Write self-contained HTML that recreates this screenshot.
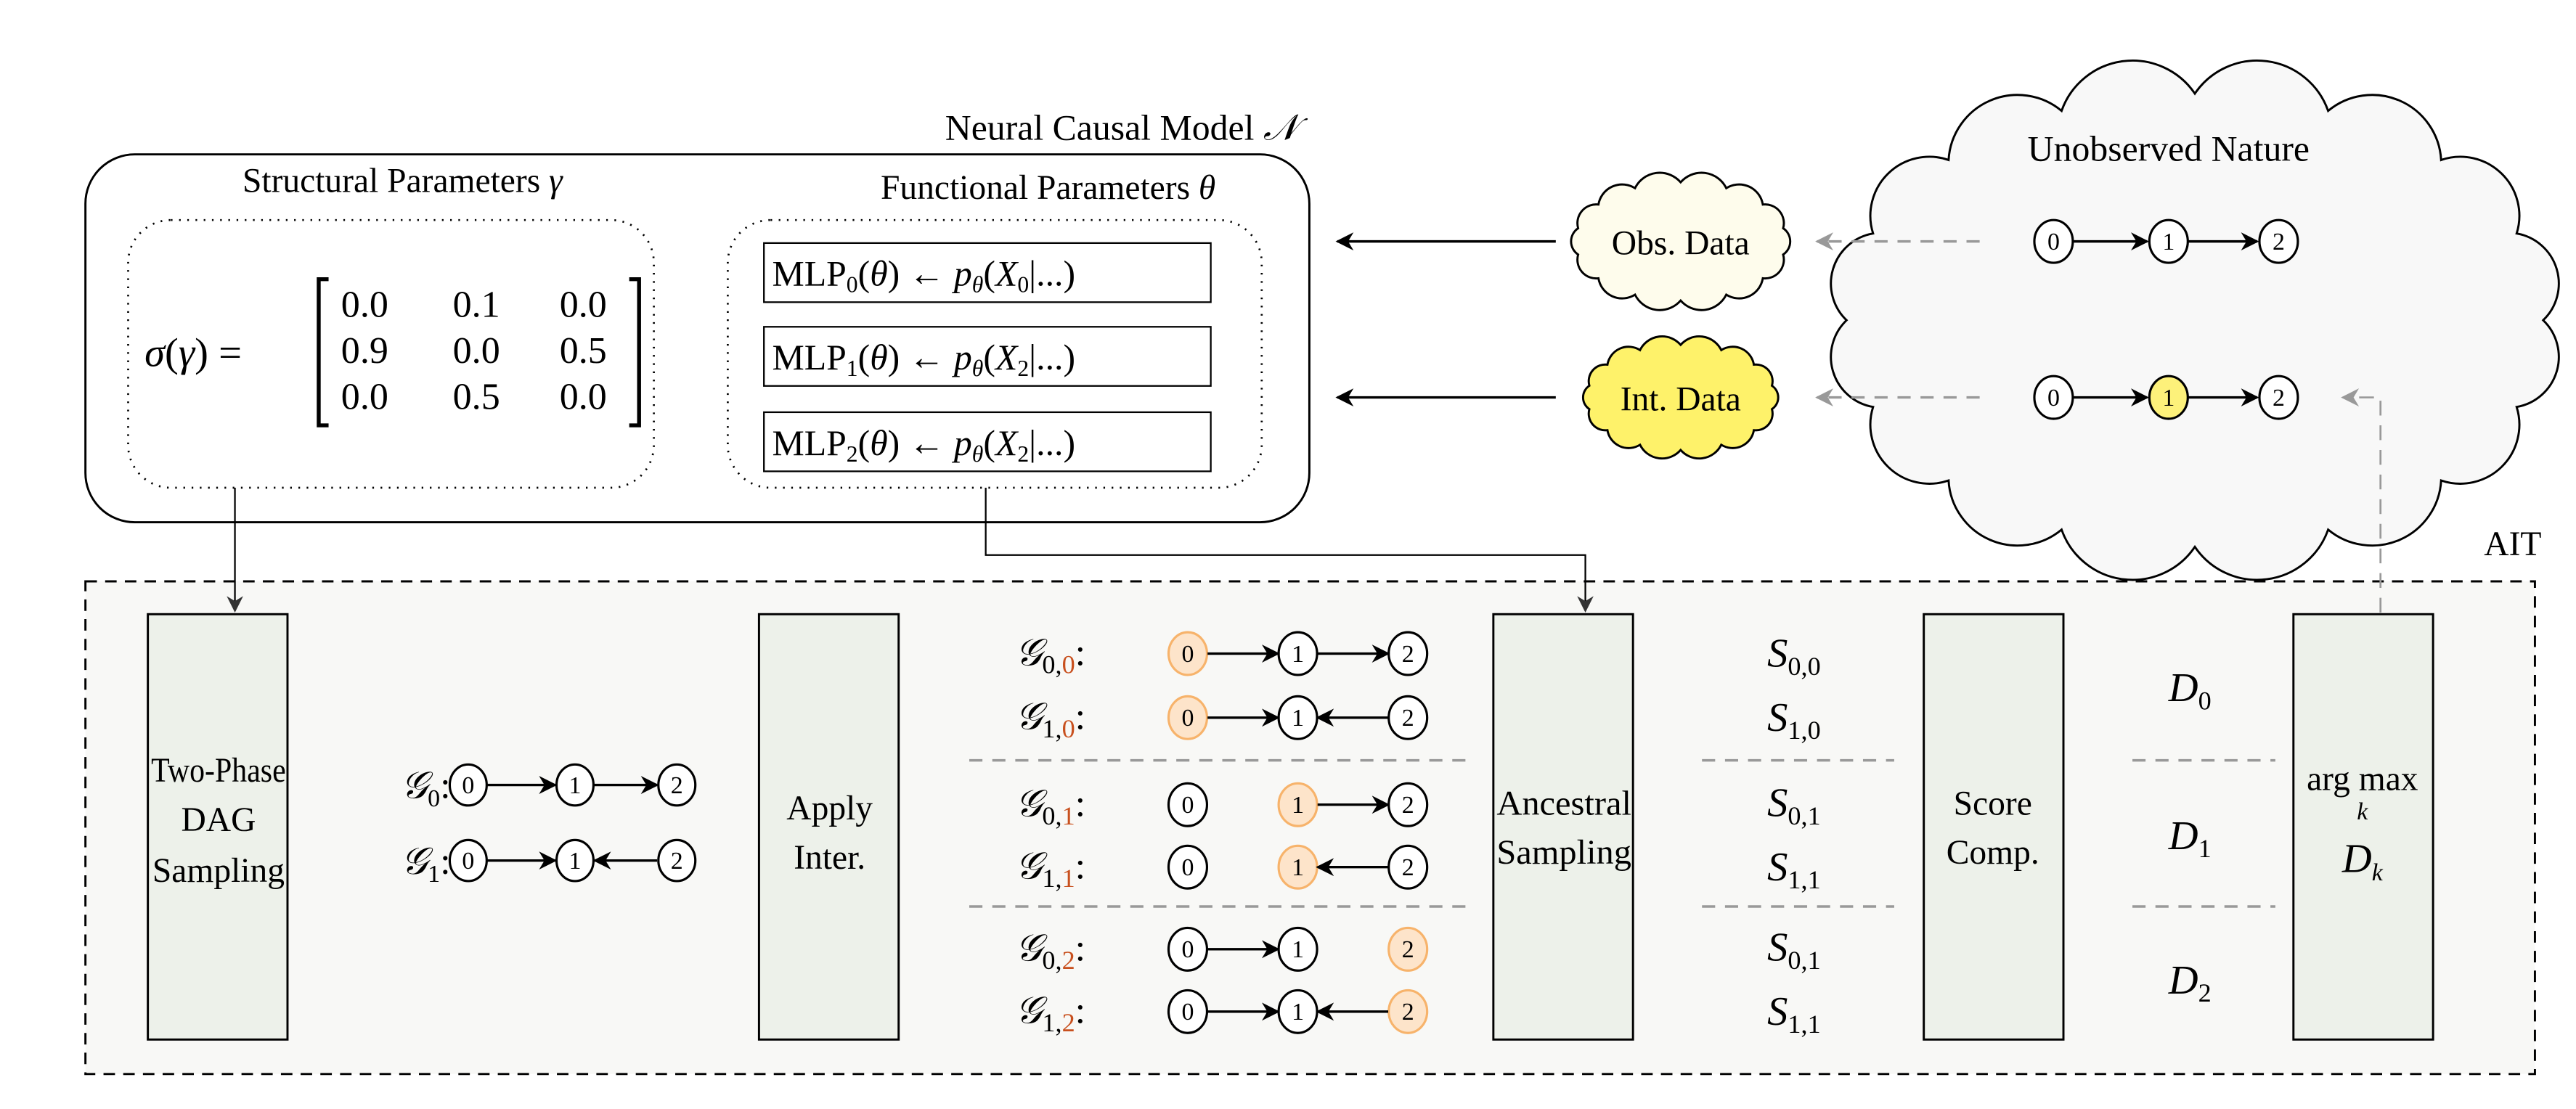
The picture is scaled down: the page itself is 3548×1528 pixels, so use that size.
<!DOCTYPE html>
<html><head><meta charset="utf-8"><style>
html,body{margin:0;padding:0;background:#fff;}
svg{display:block;}
svg text{font-family:"Liberation Serif","DejaVu Serif",serif;fill:#000;}
.it{font-style:italic;}
</style></head><body>
<svg id="s" width="3548" height="1528" viewBox="0 0 1568 675.3" preserveAspectRatio="none" xmlns="http://www.w3.org/2000/svg" font-family="Liberation Serif, DejaVu Serif, serif">
<defs>
<marker id="ahs" viewBox="0 0 10 10" refX="9" refY="5" markerWidth="11" markerHeight="11" orient="auto-start-reverse" markerUnits="userSpaceOnUse">
<path d="M0,0 L10,5 L0,10 L3,5 Z" fill="#000"/></marker>
<marker id="ahg" viewBox="0 0 10 10" refX="9" refY="5" markerWidth="11" markerHeight="11" orient="auto-start-reverse" markerUnits="userSpaceOnUse">
<path d="M0,0 L10,5 L0,10 L3,5 Z" fill="#999"/></marker>
<marker id="ahd" viewBox="0 0 10 10" refX="9" refY="5" markerWidth="10" markerHeight="14" orient="auto" markerUnits="userSpaceOnUse">
<path d="M0,0 L10,5 L0,10 L3,5 Z" fill="#333"/></marker>
</defs>
<rect width="1568" height="676" fill="#fff"/>

<rect x="52" y="354" width="1491" height="300" fill="#f8f8f6" stroke="#000" stroke-width="1.3" stroke-dasharray="7,5"/>
<text x="1512" y="338" font-size="21">AIT</text>

<text x="790" y="85" font-size="22" text-anchor="end">Neural Causal Model <tspan class="it">𝒩</tspan></text>
<rect x="52" y="94" width="745" height="224" rx="30" fill="#fff" stroke="#000" stroke-width="1.3"/>
<text x="245" y="117" font-size="21" text-anchor="middle">Structural Parameters <tspan class="it">γ</tspan></text>
<text x="638" y="121" font-size="21" text-anchor="middle">Functional Parameters <tspan class="it">θ</tspan></text>
<rect x="78" y="134" width="320" height="163" rx="26" fill="none" stroke="#000" stroke-width="1.2" stroke-dasharray="1,4"/>
<rect x="443" y="134" width="325" height="163" rx="26" fill="none" stroke="#000" stroke-width="1.2" stroke-dasharray="1,4"/>
<text x="88" y="223" font-size="25"><tspan class="it">σ</tspan>(<tspan class="it">γ</tspan>) =</text>
<path d="M200,170 h-6 v89 h6 M383,170 h6 v89 h-6" fill="none" stroke="#000" stroke-width="2.4"/>
<g font-size="23" text-anchor="middle">
<text x="222" y="193">0.0</text><text x="290" y="193">0.1</text><text x="355" y="193">0.0</text>
<text x="222" y="221">0.9</text><text x="290" y="221">0.0</text><text x="355" y="221">0.5</text>
<text x="222" y="249">0.0</text><text x="290" y="249">0.5</text><text x="355" y="249">0.0</text>
</g>
<g font-size="22">
<rect x="465" y="148" width="272" height="36" fill="#fff" stroke="#000" stroke-width="1"/>
<text x="470" y="174">MLP<tspan font-size="14" dy="4">0</tspan><tspan dy="-4">(</tspan><tspan class="it">θ</tspan>) ← <tspan class="it">p</tspan><tspan class="it" font-size="14" dy="4">θ</tspan><tspan dy="-4">(</tspan><tspan class="it">X</tspan><tspan font-size="14" dy="4">0</tspan><tspan dy="-4">|...)</tspan></text>
<rect x="465" y="199" width="272" height="36" fill="#fff" stroke="#000" stroke-width="1"/>
<text x="470" y="225">MLP<tspan font-size="14" dy="4">1</tspan><tspan dy="-4">(</tspan><tspan class="it">θ</tspan>) ← <tspan class="it">p</tspan><tspan class="it" font-size="14" dy="4">θ</tspan><tspan dy="-4">(</tspan><tspan class="it">X</tspan><tspan font-size="14" dy="4">2</tspan><tspan dy="-4">|...)</tspan></text>
<rect x="465" y="251" width="272" height="36" fill="#fff" stroke="#000" stroke-width="1"/>
<text x="470" y="277">MLP<tspan font-size="14" dy="4">2</tspan><tspan dy="-4">(</tspan><tspan class="it">θ</tspan>) ← <tspan class="it">p</tspan><tspan class="it" font-size="14" dy="4">θ</tspan><tspan dy="-4">(</tspan><tspan class="it">X</tspan><tspan font-size="14" dy="4">2</tspan><tspan dy="-4">|...)</tspan></text>
</g>

<line x1="143" y1="297" x2="143" y2="372" stroke="#000" stroke-width="1" marker-end="url(#ahd)"/>
<polyline points="600,297 600,338 965,338 965,372" fill="none" stroke="#000" stroke-width="1" marker-end="url(#ahd)"/>

<line x1="947" y1="147" x2="814" y2="147" stroke="#000" stroke-width="1.5" marker-end="url(#ahs)"/>
<line x1="947" y1="242" x2="814" y2="242" stroke="#000" stroke-width="1.5" marker-end="url(#ahs)"/>

<path id="bigc" fill="#f8f8f8" stroke="#000" stroke-width="1.3"/>
<path id="obsc" fill="#fefcec" stroke="#000" stroke-width="1.3"/>
<path id="intc" fill="#fef26a" stroke="#000" stroke-width="1.3"/>
<text x="1023" y="155" font-size="21" text-anchor="middle">Obs. Data</text>
<text x="1023" y="250" font-size="21" text-anchor="middle">Int. Data</text>
<text x="1320" y="98" font-size="22" text-anchor="middle">Unobserved Nature</text>

<line x1="1205" y1="147" x2="1106" y2="147" stroke="#999" stroke-width="1.5" stroke-dasharray="8,6" marker-end="url(#ahg)"/>
<line x1="1205" y1="242" x2="1106" y2="242" stroke="#999" stroke-width="1.5" stroke-dasharray="8,6" marker-end="url(#ahg)"/>
<polyline points="1449,373 1449,242 1426,242" fill="none" stroke="#999" stroke-width="1.2" stroke-dasharray="9,6" marker-end="url(#ahg)"/>

<g fill="#edf1ea" stroke="#000" stroke-width="1.3">
<rect x="90" y="374" width="85" height="259"/>
<rect x="462" y="374" width="85" height="259"/>
<rect x="909" y="374" width="85" height="259"/>
<rect x="1171" y="374" width="85" height="259"/>
<rect x="1396" y="374" width="85" height="259"/>
</g>
<g font-size="21" text-anchor="middle">
<text x="133" y="476" textLength="82" lengthAdjust="spacingAndGlyphs">Two-Phase</text><text x="133" y="506">DAG</text><text x="133" y="537">Sampling</text>
<text x="505" y="499">Apply</text><text x="505" y="529">Inter.</text>
<text x="952" y="496" textLength="82" lengthAdjust="spacingAndGlyphs">Ancestral</text><text x="952" y="526" textLength="82" lengthAdjust="spacingAndGlyphs">Sampling</text>
<text x="1213" y="496">Score</text><text x="1213" y="526">Comp.</text>
<text x="1438" y="481">arg max</text>
<text x="1438" y="499" font-size="15" class="it">k</text>
<text x="1438" y="531" font-size="25" class="it">D<tspan font-size="15" dy="5">k</tspan></text>
</g>

<g stroke="#999" stroke-width="1.5" stroke-dasharray="8,6">
<line x1="590" y1="463" x2="893" y2="463"/><line x1="1036" y1="463" x2="1153" y2="463"/><line x1="1298" y1="463" x2="1385" y2="463"/>
<line x1="590" y1="552" x2="893" y2="552"/><line x1="1036" y1="552" x2="1153" y2="552"/><line x1="1298" y1="552" x2="1385" y2="552"/>
</g>

<g font-size="23">
<text x="244" y="486" class="it">𝒢<tspan font-size="15" dy="5" style="font-style:normal">0</tspan><tspan dy="-5" style="font-style:normal">:</tspan></text>
<text x="244" y="532" class="it">𝒢<tspan font-size="15" dy="5" style="font-style:normal">1</tspan><tspan dy="-5" style="font-style:normal">:</tspan></text>
</g>
<g id="labs" font-size="23"></g>
<g font-size="25" text-anchor="middle" class="it">
<text x="1092" y="406">S<tspan font-size="16" dy="5" style="font-style:normal">0,0</tspan></text>
<text x="1092" y="445">S<tspan font-size="16" dy="5" style="font-style:normal">1,0</tspan></text>
<text x="1092" y="497">S<tspan font-size="16" dy="5" style="font-style:normal">0,1</tspan></text>
<text x="1092" y="536">S<tspan font-size="16" dy="5" style="font-style:normal">1,1</tspan></text>
<text x="1092" y="585">S<tspan font-size="16" dy="5" style="font-style:normal">0,1</tspan></text>
<text x="1092" y="624">S<tspan font-size="16" dy="5" style="font-style:normal">1,1</tspan></text>
<text x="1333" y="427">D<tspan font-size="16" dy="5" style="font-style:normal">0</tspan></text>
<text x="1333" y="517">D<tspan font-size="16" dy="5" style="font-style:normal">1</tspan></text>
<text x="1333" y="605">D<tspan font-size="16" dy="5" style="font-style:normal">2</tspan></text>
</g>
<g id="graphs"></g>
</svg>
<script>
var NS="http://www.w3.org/2000/svg";
function cloud(id,cx,cy,rx,ry,n,f){
 var d="",p=[];
 for(var i=0;i<=n;i++){var a=-Math.PI/2+2*Math.PI*i/n;p.push([cx+rx*Math.cos(a),cy+ry*Math.sin(a)]);}
 d="M"+p[0][0]+","+p[0][1];
 for(var i=1;i<=n;i++){var dx=p[i][0]-p[i-1][0],dy=p[i][1]-p[i-1][1];var r=Math.sqrt(dx*dx+dy*dy)*f;
 d+=" A"+r+","+r+" 0 0 1 "+p[i][0]+","+p[i][1];}
 document.getElementById(id).setAttribute("d",d+"Z");
}
cloud("bigc",1336,195,212,138,16,0.56);
cloud("obsc",1023,147,64,36,14,0.6);
cloud("intc",1023,242,57,32,14,0.6);
var G=document.getElementById("graphs");
function el(t,a){var e=document.createElementNS(NS,t);for(var k in a)e.setAttribute(k,a[k]);G.appendChild(e);return e;}
function node(x,y,l,c,r){r=r||12.5;
 el("ellipse",{cx:x,cy:y,rx:r*0.9,ry:r,fill:c=="o"?"#fde4ca":(c=="y"?"#fdf17a":"#fff"),stroke:c=="o"?"#f7b36b":"#000","stroke-width":1.4});
 var t=el("text",{x:x,y:y+5,"font-size":15,"text-anchor":"middle","font-family":"Liberation Serif, serif"});t.textContent=l;}
function arr(x1,x2,y){el("line",{x1:x1,y1:y,x2:x2,y2:y,stroke:"#000","stroke-width":1.5,"marker-end":"url(#ahs)"});}
[147,242].forEach(function(y,j){node(1250,y,"0","w",13);node(1320,y,"1",j?"y":"w",13);node(1387,y,"2","w",13);arr(1262,1307,y);arr(1332,1374,y);});
node(285,478,"0");node(350,478,"1");node(412,478,"2");arr(296,338,478);arr(361,400,478);
node(285,524,"0");node(350,524,"1");node(412,524,"2");arr(296,338,524);arr(400,362,524);
var xs=[723,790,857];
var rows=[[398,"0","0",[1,0,0],[[0,1],[1,2]]],[437,"1","0",[1,0,0],[[0,1],[2,1]]],
[490,"0","1",[0,1,0],[[1,2]]],[528,"1","1",[0,1,0],[[2,1]]],
[578,"0","2",[0,0,1],[[0,1]]],[616,"1","2",[0,0,1],[[0,1],[2,1]]]];
var L=document.getElementById("labs");
rows.forEach(function(r){
 var y=r[0];
 for(var i=0;i<3;i++)node(xs[i],y,""+i,r[3][i]?"o":"w",13);
 r[4].forEach(function(e){var a=xs[e[0]],b=xs[e[1]];if(a<b)arr(a+12,b-12,y);else arr(a-12,b+12,y);});
 var t=document.createElementNS(NS,"text");t.setAttribute("x",618);t.setAttribute("y",y+7);
 t.innerHTML='<tspan style="font-style:italic">𝒢</tspan><tspan font-size="16" dy="5">'+r[1]+',</tspan><tspan font-size="16" style="fill:#c8501e">'+r[2]+'</tspan><tspan dy="-5">:</tspan>';
 L.appendChild(t);
});
</script>
</body></html>
